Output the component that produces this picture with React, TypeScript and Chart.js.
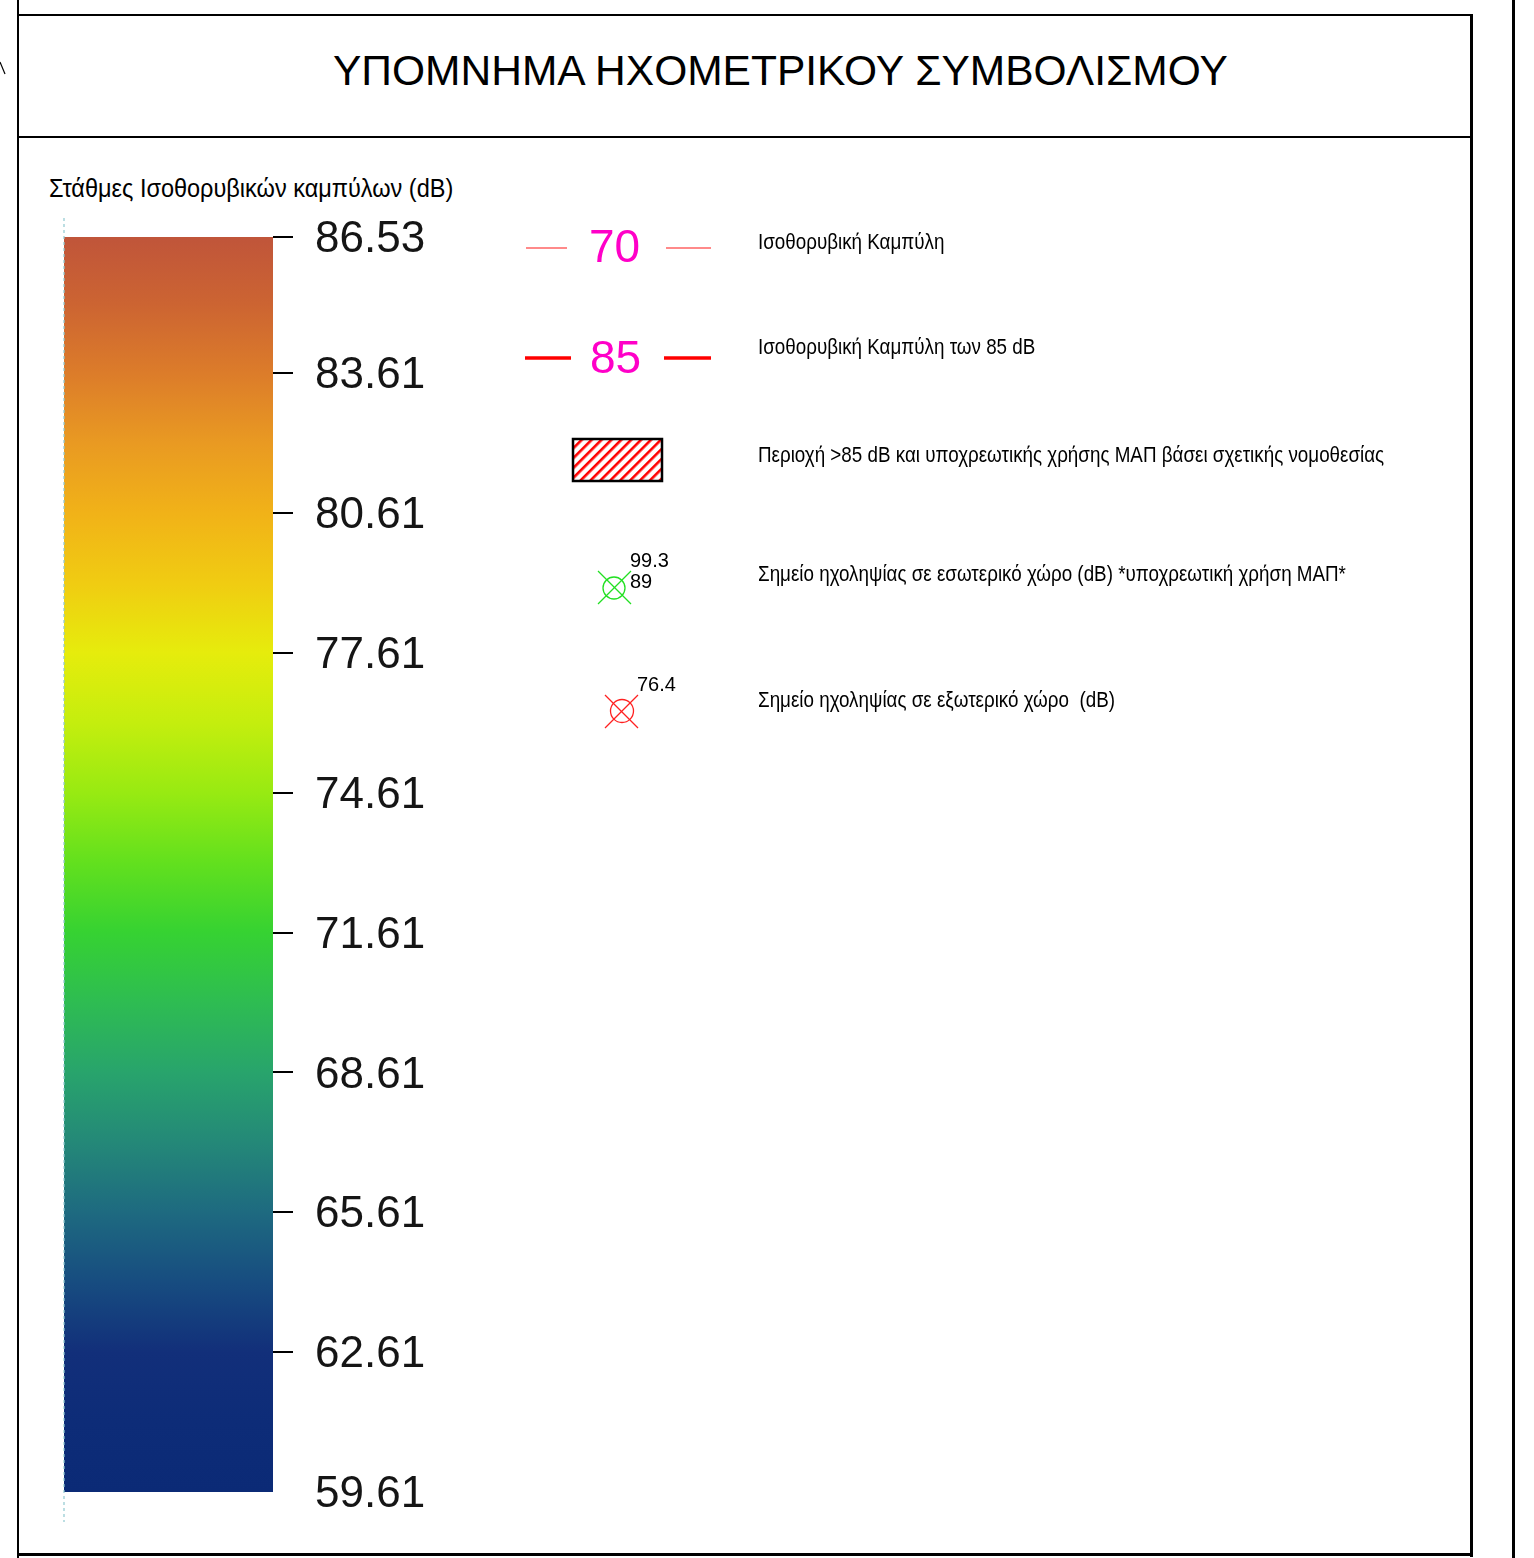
import React, { useEffect, useRef } from "react";
import { Chart, registerables } from "chart.js";

Chart.register(...registerables);

// ---- data ----
const scaleMin = 59.61;
const scaleMax = 86.53;
const tickValues = [86.53, 83.61, 80.61, 77.61, 74.61, 71.61, 68.61, 65.61, 62.61, 59.61];
const barRange = [59.61, 86.53];
const colorStopValues = [59.61, 61.1, 62.61, 64.1, 65.61, 67.1, 68.61, 70.1, 71.61, 73.1, 74.61, 76.1, 77.61, 79.1, 80.61, 82.1, 83.61, 85.1, 86.53];
const colorStopColors = [
  "#0b2a76", "#0d2c78", "#122f7a", "#174c80", "#1e6a80", "#248878", "#28a46c", "#2ebc52", "#36d232",
  "#62e01e", "#98ea12", "#c4ee0e", "#e6ec0c", "#f0cc12", "#f1b218", "#e99a22", "#dc7c2a", "#cc6432", "#c0553a",
];
const titleText = "ΥΠΟΜΝΗΜΑ ΗΧΟΜΕΤΡΙΚΟΥ ΣΥΜΒΟΛΙΣΜΟΥ";
const scaleTitle = "Στάθμες Ισοθορυβικών καμπύλων (dB)";
const legendLabels = [
  "Ισοθορυβική Καμπύλη",
  "Ισοθορυβική Καμπύλη των 85 dB",
  "Περιοχή >85 dB και υποχρεωτικής χρήσης ΜΑΠ βάσει σχετικής νομοθεσίας",
  "Σημείο ηχοληψίας σε εσωτερικό χώρο (dB) *υποχρεωτική χρήση ΜΑΠ*",
  "Σημείο ηχοληψίας σε εξωτερικό χώρο  (dB)",
];
const contourLabels = ["70", "85"];
const indoorValues = ["99.3", "89"];
const outdoorValues = ["76.4"];

const SANS = '"Liberation Sans", Arial, sans-serif';

function Txt(props: { x: number; y: number; size: number; color?: string; sx?: number; children: React.ReactNode }) {
  const { x, y, size, color, sx, children } = props;
  return (
    <div
      style={{
        position: "absolute",
        left: x,
        top: y - 0.49 * size,
        fontSize: size,
        lineHeight: 1,
        fontFamily: SANS,
        color: color || "#000",
        whiteSpace: "pre",
        transform: sx ? `scaleX(${sx})` : undefined,
        transformOrigin: "0 50%",
      }}
    >
      {children}
    </div>
  );
}

function Rect(props: { x: number; y: number; w: number; h: number; c?: string }) {
  return <div style={{ position: "absolute", left: props.x, top: props.y, width: props.w, height: props.h, background: props.c || "#000" }} />;
}

function ColorBar() {
  const ref = useRef<HTMLCanvasElement | null>(null);
  useEffect(() => {
    if (!ref.current) return;
    const chart = new Chart(ref.current, {
      type: "bar",
      data: {
        labels: [""],
        datasets: [
          {
            data: [barRange as any],
            borderWidth: 0,
            borderSkipped: false,
            categoryPercentage: 1,
            barPercentage: 1,
            backgroundColor: (ctx: any) => {
              const ch = ctx.chart;
              if (!ch.chartArea) return colorStopColors[0];
              const y = ch.scales.y;
              const g = ch.ctx.createLinearGradient(0, y.getPixelForValue(scaleMin), 0, y.getPixelForValue(scaleMax));
              colorStopValues.forEach((v, i) => g.addColorStop((v - scaleMin) / (scaleMax - scaleMin), colorStopColors[i]));
              return g;
            },
          },
        ],
      },
      options: {
        animation: false,
        responsive: false,
        layout: { padding: { left: 24, top: 50, bottom: 50, right: 0 } },
        plugins: { legend: { display: false }, tooltip: { enabled: false } },
        scales: {
          x: { display: false },
          y: {
            position: "right",
            min: scaleMin,
            max: scaleMax,
            afterBuildTicks: (scale: any) => {
              scale.ticks = tickValues.map((v) => ({ value: v }));
            },
            afterFit: (scale: any) => {
              scale.width = 207;
            },
            border: { display: false },
            grid: {
              drawOnChartArea: false,
              drawTicks: true,
              tickLength: 20,
              lineWidth: 2,
              color: (ctx: any) => (ctx.tick && ctx.tick.value === scaleMin ? "rgba(0,0,0,0)" : "#000"),
            },
            ticks: {
              padding: 22,
              labelOffset: 3,
              color: "#151515",
              font: { family: SANS, size: 44 },
              callback: (v: any) => Number(v).toFixed(2),
            },
          },
        },
      },
    });
    return () => chart.destroy();
  }, []);
  return <canvas ref={ref} width={440} height={1355} style={{ position: "absolute", left: 40, top: 187, width: 440, height: 1355 }} />;
}

function Symbols() {
  return (
    <svg width={1534} height={1558} style={{ position: "absolute", left: 0, top: 0 }}>
      <defs>
        <pattern id="hatch" patternUnits="userSpaceOnUse" width="7" height="7" patternTransform="rotate(45)">
          <rect x="0" y="0" width="2.6" height="7" fill="#ff0000" />
        </pattern>
      </defs>
      <line x1="0" y1="62" x2="5" y2="74" stroke="#000" strokeWidth="1.2" />
      <line x1="526" y1="248" x2="567" y2="248" stroke="#ff8a8a" strokeWidth="2" />
      <line x1="666" y1="248" x2="711" y2="248" stroke="#ff8a8a" strokeWidth="2" />
      <line x1="525" y1="358" x2="571" y2="358" stroke="#ff0000" strokeWidth="3.5" />
      <line x1="664" y1="358" x2="711" y2="358" stroke="#ff0000" strokeWidth="3.5" />
      <rect x="573" y="439" width="89" height="42" fill="url(#hatch)" stroke="#000" strokeWidth="2.5" />
      <circle cx="614" cy="588" r="11" fill="none" stroke="#22e022" strokeWidth="1.3" />
      <line x1="598" y1="604" x2="631" y2="571" stroke="#22e022" strokeWidth="1.3" />
      <line x1="598" y1="571" x2="631" y2="604" stroke="#22e022" strokeWidth="1.3" />
      <circle cx="622" cy="711" r="11.5" fill="none" stroke="#ff2020" strokeWidth="1.3" />
      <line x1="605" y1="728" x2="638" y2="695" stroke="#ff2020" strokeWidth="1.3" />
      <line x1="605" y1="695" x2="638" y2="728" stroke="#ff2020" strokeWidth="1.3" />
      <line x1="64" y1="218" x2="64" y2="1522" stroke="#8fc8d0" strokeWidth="1.2" strokeDasharray="3 3" />
    </svg>
  );
}

export default function App() {
  useEffect(() => {
    document.body.style.margin = "0";
    document.documentElement.style.overflow = "hidden";
  }, []);
  const legendY = [242, 347, 455, 574, 700];
  return (
    <div style={{ position: "absolute", left: 0, top: 0, width: 1534, height: 1558, background: "#fff", overflow: "hidden" }}>
      <Rect x={17} y={0} w={2} h={1558} />
      <Rect x={17} y={14} w={1456} h={2} />
      <Rect x={17} y={136} w={1456} h={2} />
      <Rect x={1470} y={14} w={3} h={1543} />
      <Rect x={17} y={1553} w={1456} h={3} />
      <Rect x={1512} y={0} w={3} h={1558} />
      <Txt x={333} y={71} size={42.5}>{titleText}</Txt>
      <Txt x={49} y={188} size={25} sx={0.94}>{scaleTitle}</Txt>
      <ColorBar />
      <Symbols />
      <Txt x={589} y={246} size={46} color="#ff00c8">{contourLabels[0]}</Txt>
      <Txt x={590} y={357} size={46} color="#ff00c8">{contourLabels[1]}</Txt>
      <Txt x={630} y={560} size={20}>{indoorValues[0]}</Txt>
      <Txt x={630} y={581} size={20}>{indoorValues[1]}</Txt>
      <Txt x={637} y={684} size={20}>{outdoorValues[0]}</Txt>
      {legendLabels.map((t, i) => (
        <Txt key={i} x={758} y={legendY[i]} size={22} sx={0.855}>{t}</Txt>
      ))}
    </div>
  );
}
